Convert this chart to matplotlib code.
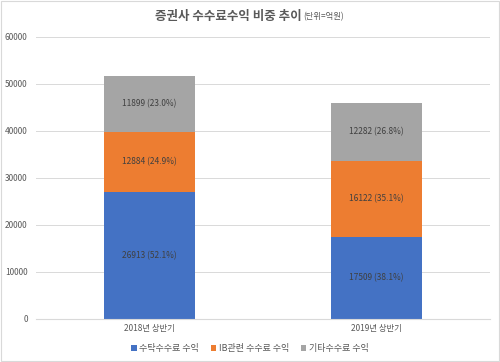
import numpy as np
import matplotlib.pyplot as plt

plt.rcParams['font.family'] = ['Noto Sans CJK KR', 'DejaVu Sans']

categories = ["2018년 상반기", "2019년 상반기"]
series_names = ["수탁수수료 수익", "IB관련 수수료 수익", "기타수수료 수익"]
brokerage = [26913, 17509]
ib_fees = [12884, 16122]
other_fees = [11899, 12282]
brokerage_pct = [52.1, 38.1]
ib_pct = [24.9, 35.1]
other_pct = [23.0, 26.8]

colors = ["#4472C4", "#ED7D31", "#A5A5A5"]
text_col = "#404040"

fig = plt.figure(figsize=(5, 3.62), dpi=100)
ax = fig.add_axes([0.072, 0.119, 0.908, 0.779])

x = np.arange(len(categories))
width = 0.405
bottom = np.zeros(len(categories))
for vals, pcts, col, name in zip([brokerage, ib_fees, other_fees],
                                 [brokerage_pct, ib_pct, other_pct],
                                 colors, series_names):
    vals = np.array(vals, dtype=float)
    ax.bar(x, vals, width, bottom=bottom, color=col, label=name, zorder=2)
    for xi, v, b, p in zip(x, vals, bottom, pcts):
        ax.text(xi, b + v / 2, f"{int(v)} ({p:.1f}%)", ha="center", va="center",
                fontsize=6, color=text_col, zorder=3)
    bottom += vals

ax.set_xlim(-0.5, 1.5)
ax.set_ylim(0, 60000)
ax.set_yticks(np.arange(0, 60001, 10000))
ax.set_xticks(x)
ax.set_xticklabels(categories)
ax.tick_params(axis="both", length=0, labelsize=6, colors="#595959")
ax.tick_params(axis="y", pad=6)
ax.grid(axis="y", color="#D9D9D9", linewidth=0.7, zorder=0)
for s in ax.spines.values():
    s.set_visible(False)
ax.spines["bottom"].set_visible(True)
ax.spines["bottom"].set_color("#D9D9D9")

fig.text(0.604, 0.955, "증권사 수수료수익 비중 추이", ha="right", va="center",
         fontsize=9, color="#595959", fontweight="semibold")
fig.text(0.606, 0.953, "(단위=억원)", ha="left", va="center",
         fontsize=6, color="#595959")

fig.legend(loc="center", bbox_to_anchor=(0.5, 0.036), ncol=3, frameon=False,
           fontsize=6.5, handlelength=0.6, handleheight=0.6, handletextpad=0.3,
           columnspacing=1.3, labelcolor="#595959")

fig.patches.append(plt.Rectangle((0.002, 0.002), 0.996, 0.996, transform=fig.transFigure,
                                 fill=False, edgecolor="#D9D9D9", linewidth=0.8))

fig.savefig("out.png", dpi=100)
